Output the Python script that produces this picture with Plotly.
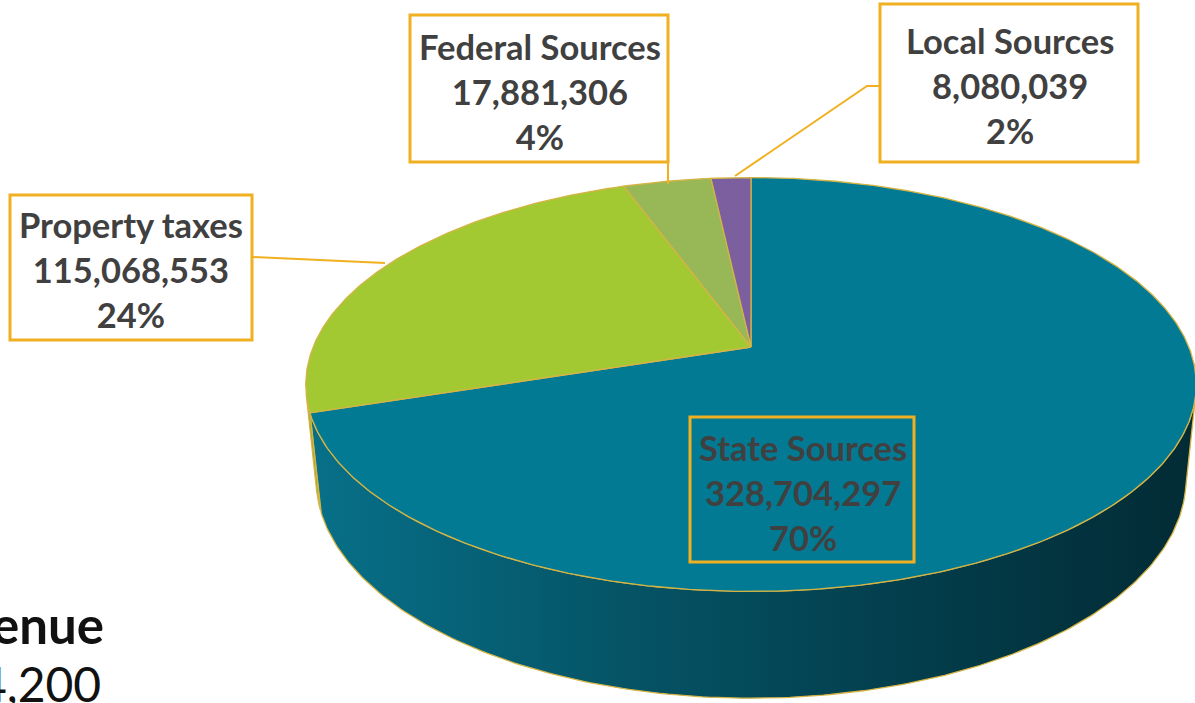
import numpy as np
import plotly.graph_objects as go

# ---------------- data ----------------
labels = ["State Sources", "Property taxes", "Federal Sources", "Local Sources"]
values = [328704297, 115068553, 17881306, 8080039]
top_colors = ["#037a93", "#a2c932", "#98b757", "#7c5f9f"]
side_colors = ["#05556a", "#7f9f22", "#7a9444", "#5d4778"]
total_title = "Total Revenue"
total_value = "$469,734,200"

# ---------------- 3D pie geometry (perspective projection) ----------------
W, H = 1195, 703
CX, CY = 751, 347
ALPHA = np.radians(27.2)
CA, SA = np.cos(ALPHA), np.sin(ALPHA)
D = 4.91
F = 2150
T = 0.245
EDGE = "#d4b445"


def proj(theta_deg, h):
    th = np.radians(np.asarray(theta_deg, dtype=float))
    x = np.sin(th)
    z = np.cos(th)
    up = h * CA + z * SA
    depth = D + z * CA - h * SA
    return CX + F * x / depth, CY - F * up / depth


total = float(sum(values))
fracs = [v / total for v in values]
bounds = np.concatenate([[0.0], np.cumsum(fracs) * 360.0])

# visible range of the side wall (silhouette generators)
sil = np.degrees(np.arccos(-1.0 / (D * CA)))
vis_lo, vis_hi = sil, 360.0 - sil

fig = go.Figure()

# side walls
for i in range(len(values)):
    a, b = bounds[i], bounds[i + 1]
    lo, hi = max(a, vis_lo), min(b, vis_hi)
    if hi <= lo:
        continue
    th = np.linspace(lo, hi, 200)
    xt, yt = proj(th, 0.0)
    xb, yb = proj(th[::-1], -T)
    xs = np.concatenate([xt, xb, xt[:1]])
    ys = np.concatenate([yt, yb, yt[:1]])
    kw = {}
    if i == 0:
        kw["fillgradient"] = dict(
            type="horizontal",
            colorscale=[[0, "#077089"], [0.35, "#055466"], [0.7, "#033c4a"], [1, "#022b35"]],
        )
    else:
        kw["fillcolor"] = side_colors[i]
    fig.add_trace(go.Scatter(
        x=xs, y=ys, mode="lines", fill="toself",
        line=dict(color=EDGE, width=1.3), hoverinfo="skip", **kw))

# top faces
for i in range(len(values)):
    a, b = bounds[i], bounds[i + 1]
    n = max(int((b - a) * 2), 8)
    th = np.linspace(a, b, n)
    xa, ya = proj(th, 0.0)
    xs = np.concatenate([[CX], xa, [CX]])
    ys = np.concatenate([[CY], ya, [CY]])
    fig.add_trace(go.Scatter(
        x=xs, y=ys, mode="lines", fill="toself", fillcolor=top_colors[i],
        line=dict(color=EDGE, width=1.3), name=labels[i],
        text=f"{labels[i]}: {values[i]:,}", hoverinfo="text"))

# ---------------- label boxes ----------------
BOX = "#f0b020"
boxes = {
    "State Sources": (690, 417, 914, 562, "rgba(0,0,0,0)", 803, 492),
    "Property taxes": (10, 195, 252, 340, "white", 131, 269),
    "Federal Sources": (410, 15, 668, 162, "white", 540, 91),
    "Local Sources": (880, 4, 1138, 162, "white", 1010, 85),
}
shapes = []
annotations = []
for lab, val, fr in zip(labels, values, fracs):
    x0, y0, x1, y1, fill, tx, ty = boxes[lab]
    shapes.append(dict(type="rect", xref="x", yref="y", x0=x0, y0=y0, x1=x1, y1=y1,
                       line=dict(color=BOX, width=3), fillcolor=fill, layer="above"))
    annotations.append(dict(
        x=tx, y=ty, xref="x", yref="y", showarrow=False,
        text=f"<b>{lab}<br>{val:,}<br>{round(fr * 100):d}%</b>",
        font=dict(family="Lato", size=34.5, color="#404040"),
        align="center", xanchor="center", yanchor="middle"))

# leader lines
shapes.append(dict(type="line", xref="x", yref="y", x0=668, y0=162, x1=668, y1=184,
                   line=dict(color=BOX, width=2)))
shapes.append(dict(type="path", xref="x", yref="y", path="M 880 86 L 867 86 L 735 176",
                   line=dict(color=BOX, width=2)))
shapes.append(dict(type="line", xref="x", yref="y", x0=253, y0=257, x1=385, y1=263,
                   line=dict(color=BOX, width=2)))

# cut-off title text at bottom-left (as in the reference)
annotations.append(dict(x=106, y=624, xref="x", yref="y", showarrow=False,
                        text=f"<b>{total_title}</b>", xanchor="right", yanchor="middle",
                        font=dict(family="Lato", size=51, color="#111111")))
annotations.append(dict(x=103, y=683, xref="x", yref="y", showarrow=False,
                        text=total_value, xanchor="right", yanchor="middle",
                        font=dict(family="Lato", size=48, color="#111111")))

fig.update_layout(
    width=W, height=H, autosize=False,
    margin=dict(l=0, r=0, t=0, b=0),
    paper_bgcolor="white", plot_bgcolor="white",
    showlegend=False,
    xaxis=dict(range=[0, W], visible=False, fixedrange=True),
    yaxis=dict(range=[H, 0], visible=False, fixedrange=True),
    shapes=shapes, annotations=annotations,
)

fig.write_html(
    "out.html",
    config={"displayModeBar": False},
    post_script="document.body.style.margin='0';document.body.style.overflow='hidden';",
)
